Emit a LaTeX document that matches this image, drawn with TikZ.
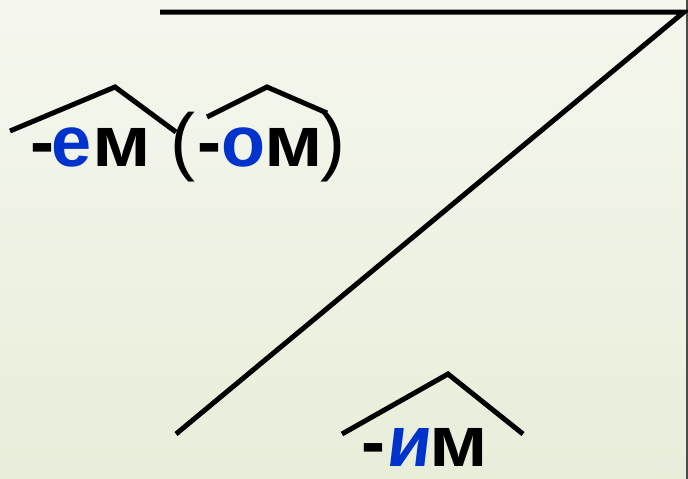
\documentclass[tikz,border=0pt]{standalone}
\usepackage{fontspec}
\usepackage{graphicx}
\setmainfont{Liberation Sans}
\newfontfamily\slantbf[FakeSlant=0.12]{Liberation Sans Bold}
\definecolor{blu}{RGB}{0,51,204}
\definecolor{bgA}{RGB}{245,247,238}
\definecolor{bgB}{RGB}{232,238,218}
\tikzset{
  stroke/.style={line width=5pt, black},
  gl/.style={anchor=base, inner sep=0pt, font=\fontsize{72}{86}\selectfont\bfseries},
  par/.style={anchor=base, inner sep=0pt, font=\fontsize{75}{90}\selectfont},
}
\newcommand{\wideM}{\scalebox{1.1}[1]{м}}
\begin{document}
\begin{tikzpicture}[x=1pt,y=-1pt]
\useasboundingbox (0,0) rectangle (688,479);
\shade[left color=bgA, right color=bgB, shading angle=0] (0,0) rectangle (688,479);
\shade[top color=bgA, bottom color=bgB, opacity=0.5] (0,0) rectangle (688,479);
\draw[gray!60!black, line width=1.5pt] (687.2,0) -- (687.2,479);
% main lines
\coordinate (tl) at (160,12);
\coordinate (tr) at (684,12);
\coordinate (bl) at (176,434);
\draw[stroke, line join=miter] (tl) -- (tr) -- (bl);
% top word: -ем (-ом)
\node[gl] (h1) at (42,166) {-};
\node[gl, blu] (e1) at (72,166) {е};
\node[gl] (m1) at (121.5,166) {\wideM};
\node[par] (lp) at (182.5,166) {(};
\node[gl] (h2) at (209.5,166) {-};
\node[gl, blu] (o1) at (243,166) {о};
\node[gl] (m2) at (293.5,166) {\wideM};
\node[par] (rp) at (332.5,166) {)};
% bottom word: -им
\node[gl] (h3) at (373,466) {-};
\node[gl, blu, inner xsep=3pt, font=\fontsize{72}{86}\selectfont\slantbf] (i1) at (408,466) {и};
\node[gl] (m3) at (458.5,466) {\wideM};
% carets
\draw[stroke] (10,131) -- (115,87) -- (176,132);
\draw[stroke] (207,117) -- (267,87) -- (327,113);
\draw[stroke] (342,434) -- (448,374) -- (523,434);
\end{tikzpicture}
\end{document}
